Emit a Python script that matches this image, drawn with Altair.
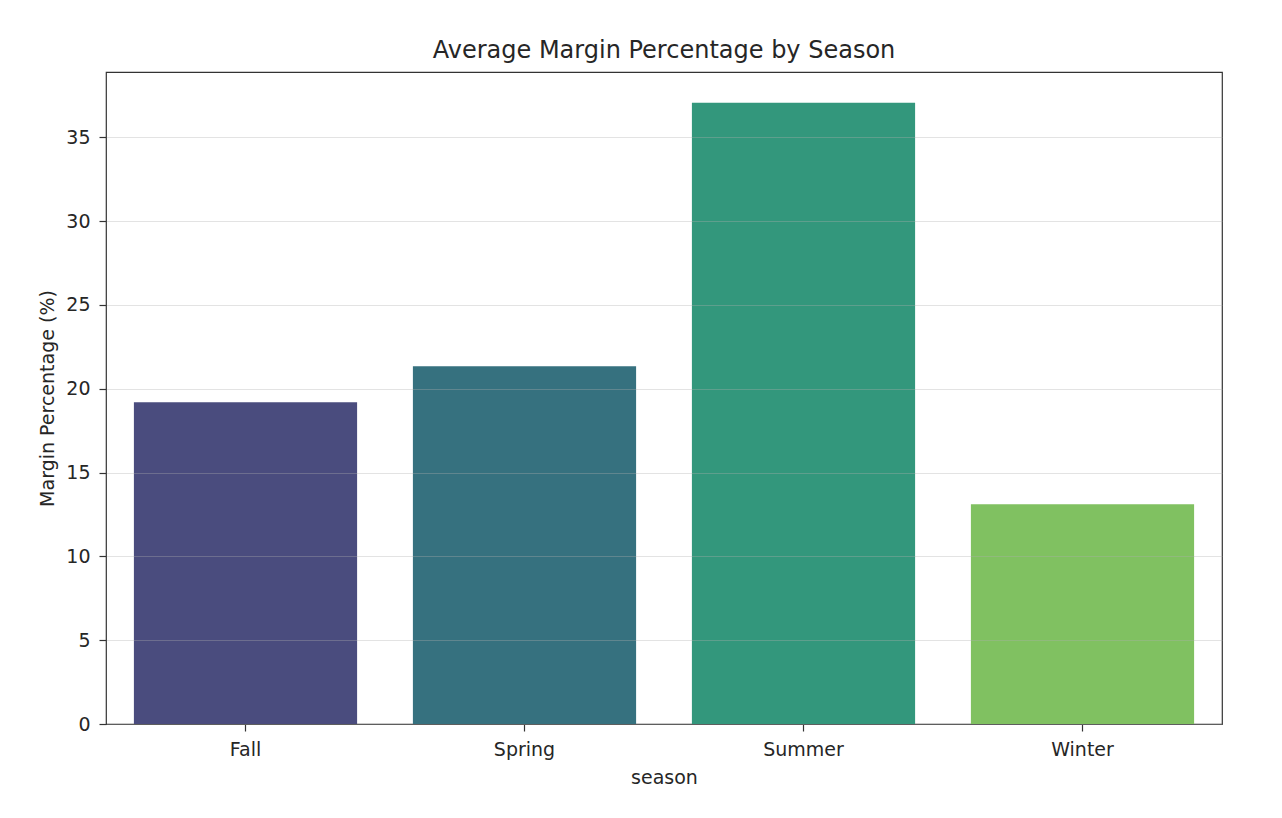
import altair as alt
import pandas as pd

seasons = ["Fall", "Spring", "Summer", "Winter"]
margins = [19.2, 21.35, 37.06, 13.11]
colors = ["#4a4c7e", "#36717f", "#33977c", "#80c161"]
y_ticks = [0, 5, 10, 15, 20, 25, 30, 35]

df = pd.DataFrame({"season": seasons, "margin": margins})

FONT = "DejaVu Sans"
TEXT = "#262626"

chart = alt.Chart(df).mark_bar().encode(
    x=alt.X(
        "season:N",
        sort=seasons,
        scale=alt.Scale(paddingInner=0.2, paddingOuter=0.1),
        axis=alt.Axis(
            title="season",
            labelAngle=0,
            labelFontSize=19,
            labelFont=FONT,
            labelColor=TEXT,
            labelBaseline="alphabetic",
            labelPadding=24,
            tickSize=7,
            tickColor="#333",
            tickWidth=1.2,
            domain=False,
            grid=False,
            titleFontSize=19,
            titleFont=FONT,
            titleFontWeight="normal",
            titleColor=TEXT,
            titleBaseline="alphabetic",
            titleY=59,
        ),
    ),
    y=alt.Y(
        "margin:Q",
        scale=alt.Scale(domain=[0, 38.9], nice=False, zero=True),
        axis=alt.Axis(
            title="Margin Percentage (%)",
            values=y_ticks,
            labelFontSize=19,
            labelFont=FONT,
            labelColor=TEXT,
            labelPadding=9,
            tickSize=7,
            tickColor="#333",
            tickWidth=1.2,
            domain=False,
            grid=True,
            gridColor="#b0b0b0",
            gridOpacity=0.35,
            gridWidth=1.2,
            zindex=1,
            titleFontSize=19,
            titleFont=FONT,
            titleFontWeight="normal",
            titleColor=TEXT,
            titleBaseline="alphabetic",
            titleX=-53,
        ),
    ),
    color=alt.Color(
        "season:N",
        scale=alt.Scale(domain=seasons, range=colors),
        legend=None,
    ),
).properties(
    width=1116,
    height=652,
    title=alt.Title(
        "Average Margin Percentage by Season",
        fontSize=24,
        font=FONT,
        fontWeight="normal",
        color=TEXT,
        baseline="alphabetic",
        offset=-10,
    ),
    autosize=alt.AutoSizeParams(type="none"),
    padding={"left": 98, "top": 64, "right": 52, "bottom": 86},
).configure_view(
    stroke="#333",
    strokeWidth=1.2,
)

chart.save("out.html", embed_options={"renderer": "svg", "actions": False})
